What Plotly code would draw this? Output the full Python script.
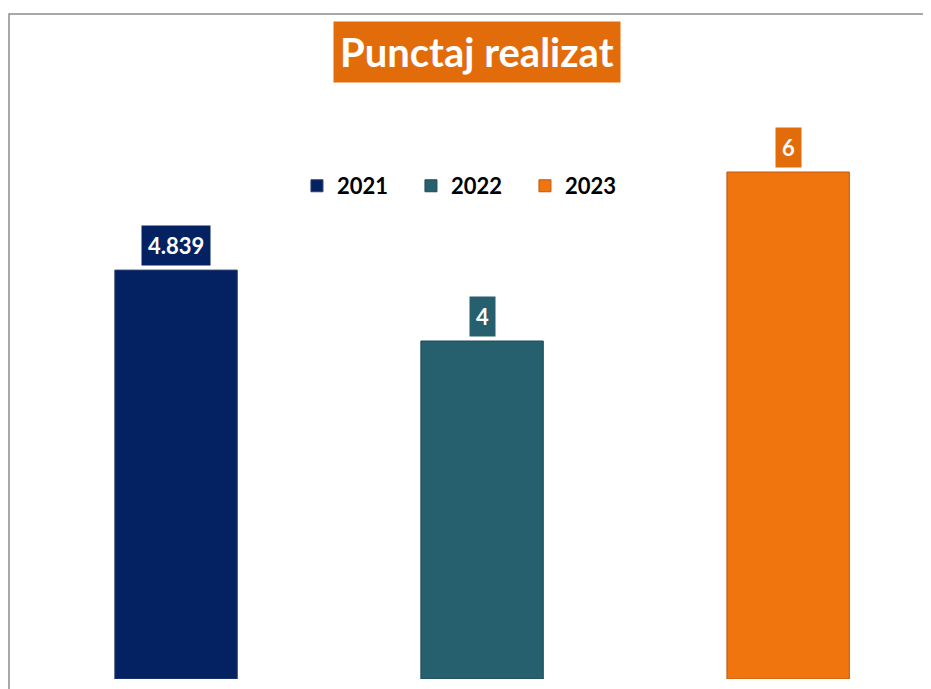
import plotly.graph_objects as go

years = ['2021', '2022', '2023']
values = [4.839, 4, 6]
labels = ['4.839', '4', '6']
bar_colors = ['#042262', '#265F6E', '#F0750F']
edge_colors = ['#2B3F6E', '#1E4B57', '#B95A10']
label_colors = ['#042262', '#265F6E', '#E36C0A']

font_family = 'Lato'

fig = go.Figure()

for yr, val, col, edge in zip(years, values, bar_colors, edge_colors):
    fig.add_trace(go.Bar(x=[yr], y=[val], name=yr,
                         marker=dict(color=col, line=dict(color=edge, width=1)),
                         hoverinfo='x+y'))

# value labels in coloured boxes above each bar (x by category index)
for i, (val, lab, col) in enumerate(zip(values, labels, label_colors)):
    fig.add_annotation(x=i, y=val, text=lab, showarrow=False,
                       yanchor='bottom', yshift=4,
                       bgcolor=col, borderpad=6,
                       font=dict(family=font_family, size=22, color='white', weight='bold'))

# title box
fig.add_annotation(text='Punctaj realizat', xref='paper', yref='paper',
                   x=0.5032, y=0.9436, xanchor='center', yanchor='middle',
                   showarrow=False, bgcolor='#E36C0A', borderpad=6,
                   font=dict(family=font_family, size=40, color='white', weight='bold'))

# chart border (only top and left visible in the crop)
fig.add_shape(type='rect', xref='paper', yref='paper',
              x0=0, x1=1.1, y0=-0.1, y1=1,
              line=dict(color='#8C8C8C', width=1.5), layer='below')

fig.update_layout(
    width=931, height=689,
    margin=dict(l=1, r=0, t=6, b=18),
    paper_bgcolor='white', plot_bgcolor='white',
    barmode='overlay', bargap=0.6,
    showlegend=True,
    legend=dict(orientation='h', x=0.4935, y=0.7414,
                xanchor='center', yanchor='middle',
                bgcolor='rgba(0,0,0,0)',
                entrywidth=69, entrywidthmode='pixels',
                font=dict(family=font_family, size=22, color='black', weight='bold')),
    xaxis=dict(type='category', range=[-0.5458, 2.493], visible=False, fixedrange=True),
    yaxis=dict(range=[0, 7.87], visible=False, fixedrange=True),
)

fig.write_html('out.html')
